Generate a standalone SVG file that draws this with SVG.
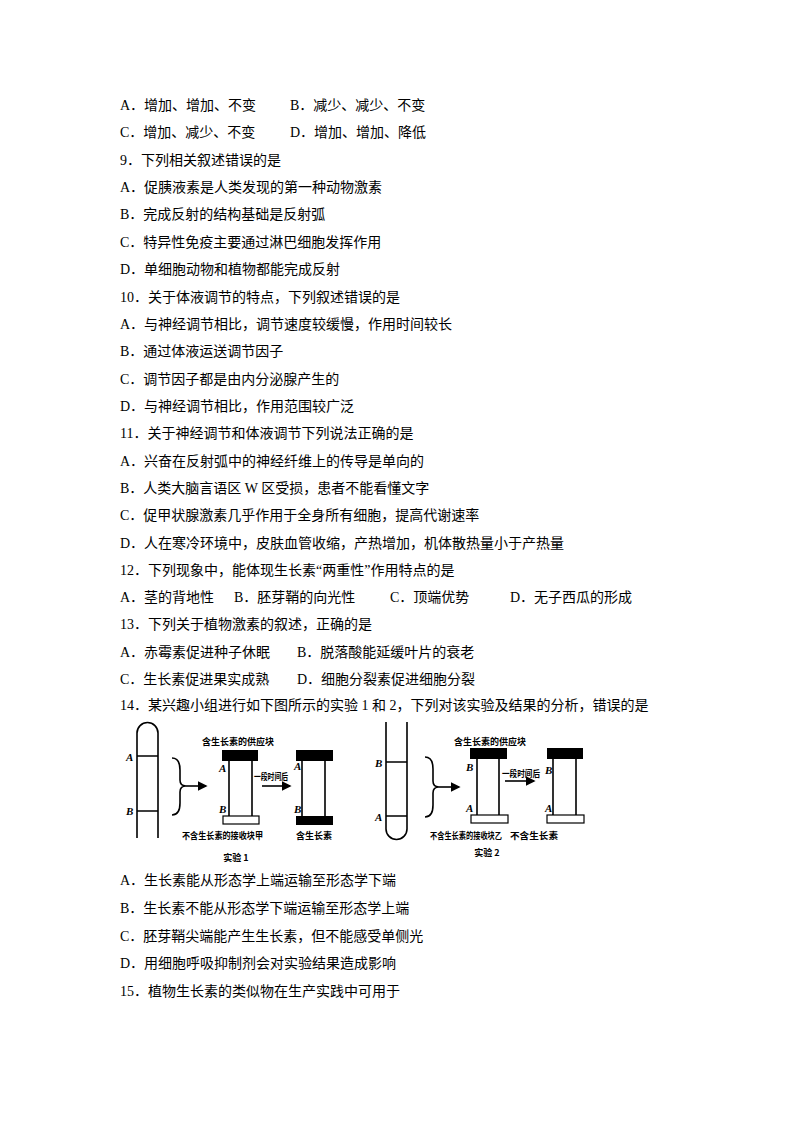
<svg xmlns="http://www.w3.org/2000/svg" width="794" height="1123" viewBox="0 0 794 1123">
<style>
.t{font-family:"Liberation Serif","Noto Sans CJK SC",serif;font-size:14px;fill:#000}
.s{font-family:"Noto Sans CJK SC",sans-serif;font-size:9px;font-weight:bold;fill:#000}
.l{font-family:"Liberation Serif",serif;font-size:11px;font-style:italic;font-weight:bold;fill:#000}
.k{stroke:#000;stroke-width:1.6;fill:none}
.b{fill:#000}
.w{fill:#fff;stroke:#000;stroke-width:1.2}
</style>
<defs><marker id="ar" markerWidth="6" markerHeight="6" refX="5" refY="3" orient="auto"><path d="M0,0L6,3L0,6z" fill="#000"/></marker></defs>
<rect width="794" height="1123" fill="#fff"/>
<g id="text">
<text class="t" x="120" y="110">A．增加、增加、不变</text><text class="t" x="290" y="110">B．减少、减少、不变</text>
<text class="t" x="120" y="137">C．增加、减少、不变</text><text class="t" x="290" y="137">D．增加、增加、降低</text>
<text class="t" x="120" y="165">9．下列相关叙述错误的是</text>
<text class="t" x="120" y="192">A．促胰液素是人类发现的第一种动物激素</text>
<text class="t" x="120" y="219">B．完成反射的结构基础是反射弧</text>
<text class="t" x="120" y="247">C．特异性免疫主要通过淋巴细胞发挥作用</text>
<text class="t" x="120" y="274">D．单细胞动物和植物都能完成反射</text>
<text class="t" x="120" y="302">10．关于体液调节的特点，下列叙述错误的是</text>
<text class="t" x="120" y="329">A．与神经调节相比，调节速度较缓慢，作用时间较长</text>
<text class="t" x="120" y="356">B．通过体液运送调节因子</text>
<text class="t" x="120" y="384">C．调节因子都是由内分泌腺产生的</text>
<text class="t" x="120" y="411">D．与神经调节相比，作用范围较广泛</text>
<text class="t" x="120" y="438">11．关于神经调节和体液调节下列说法正确的是</text>
<text class="t" x="120" y="466">A．兴奋在反射弧中的神经纤维上的传导是单向的</text>
<text class="t" x="120" y="493">B．人类大脑言语区 W 区受损，患者不能看懂文字</text>
<text class="t" x="120" y="520">C．促甲状腺激素几乎作用于全身所有细胞，提高代谢速率</text>
<text class="t" x="120" y="548">D．人在寒冷环境中，皮肤血管收缩，产热增加，机体散热量小于产热量</text>
<text class="t" x="120" y="575">12．下列现象中，能体现生长素“两重性”作用特点的是</text>
<text class="t" x="120" y="602">A．茎的背地性</text><text class="t" x="234" y="602">B．胚芽鞘的向光性</text><text class="t" x="390" y="602">C．顶端优势</text><text class="t" x="510" y="602">D．无子西瓜的形成</text>
<text class="t" x="120" y="629">13．下列关于植物激素的叙述，正确的是</text>
<text class="t" x="120" y="657">A．赤霉素促进种子休眠</text><text class="t" x="297" y="657">B．脱落酸能延缓叶片的衰老</text>
<text class="t" x="120" y="684">C．生长素促进果实成熟</text><text class="t" x="297" y="684">D．细胞分裂素促进细胞分裂</text>
<text class="t" x="120" y="710">14．某兴趣小组进行如下图所示的实验 1 和 2，下列对该实验及结果的分析，错误的是</text>
<text class="t" x="120" y="885">A．生长素能从形态学上端运输至形态学下端</text>
<text class="t" x="120" y="913">B．生长素不能从形态学下端运输至形态学上端</text>
<text class="t" x="120" y="941">C．胚芽鞘尖端能产生生长素，但不能感受单侧光</text>
<text class="t" x="120" y="968">D．用细胞呼吸抑制剂会对实验结果造成影响</text>
<text class="t" x="120" y="996">15．植物生长素的类似物在生产实践中可用于</text>
</g>
<g id="exp1">
<path class="k" d="M137,838V733A10.5,10.5 0 0 1 158,733V838"/>
<path class="k" d="M137,756H158M137,811H158" stroke-width="1"/>
<text class="l" x="126" y="761">A</text><text class="l" x="126" y="815">B</text>
<path class="k" d="M172,758Q180,758 180,770V780Q180,786 186,786Q180,786 180,792V803Q180,815 172,815" stroke-width="1.2"/>
<line class="k" x1="186" y1="786" x2="206" y2="786" stroke-width="1" marker-end="url(#ar)"/>
<text class="s" x="238" y="745" text-anchor="middle">含生长素的供应块</text>
<rect class="b" x="222" y="750" width="36" height="11"/>
<path class="k" d="M229,761V816M252,761V816" stroke-width="1.2"/>
<rect class="w" x="223" y="816" width="36" height="8"/>
<text class="l" x="219" y="772">A</text><text class="l" x="219" y="813">B</text>
<text class="s" x="254" y="780" textLength="34" lengthAdjust="spacingAndGlyphs">一段时间后</text>
<line class="k" x1="262" y1="786" x2="290" y2="786" stroke-width="1.3" marker-end="url(#ar)"/>
<rect class="b" x="296" y="750" width="37" height="11"/>
<path class="k" d="M302,761V816M325,761V816" stroke-width="1.2"/>
<rect class="b" x="296" y="816" width="37" height="9"/>
<text class="l" x="294" y="770">A</text><text class="l" x="294" y="813">B</text>
<text class="s" x="182" y="839" textLength="81" lengthAdjust="spacingAndGlyphs">不含生长素的接收块甲</text><text class="s" x="296" y="839">含生长素</text>
<text class="s" x="236" y="861" text-anchor="middle" font-size="11">实验 1</text>
</g>
<g id="exp2">
<path class="k" d="M386,722V829A10.5,10.5 0 0 0 407,829V722"/>
<path class="k" d="M386,762H407M386,816H407" stroke-width="1"/>
<text class="l" x="375" y="767">B</text><text class="l" x="375" y="821">A</text>
<path class="k" d="M425,757Q433,757 433,769V781Q433,787 439,787Q433,787 433,793V805Q433,817 425,817" stroke-width="1.2"/>
<line class="k" x1="439" y1="787" x2="459" y2="787" stroke-width="1" marker-end="url(#ar)"/>
<text class="s" x="490" y="745" text-anchor="middle">含生长素的供应块</text>
<rect class="b" x="470" y="748" width="37" height="11"/>
<path class="k" d="M477,759V815M499,759V815" stroke-width="1.2"/>
<rect class="w" x="471" y="815" width="37" height="8"/>
<text class="l" x="466" y="771">B</text><text class="l" x="466" y="812">A</text>
<text class="s" x="502" y="777" textLength="38" lengthAdjust="spacingAndGlyphs">一段时间后</text>
<line class="k" x1="505" y1="781" x2="534" y2="781" stroke-width="1.3" marker-end="url(#ar)"/>
<rect class="b" x="547" y="748" width="36" height="11"/>
<path class="k" d="M553,759V815M576,759V815" stroke-width="1.2"/>
<rect class="w" x="547" y="815" width="37" height="8"/>
<text class="l" x="545" y="774">B</text><text class="l" x="545" y="812">A</text>
<text class="s" x="430" y="839" textLength="72" lengthAdjust="spacingAndGlyphs">不含生长素的接收块乙</text><text class="s" x="510" y="839" textLength="48" lengthAdjust="spacingAndGlyphs">不含生长素</text>
<text class="s" x="487" y="856" text-anchor="middle" font-size="11">实验 2</text>
</g>
</svg>
